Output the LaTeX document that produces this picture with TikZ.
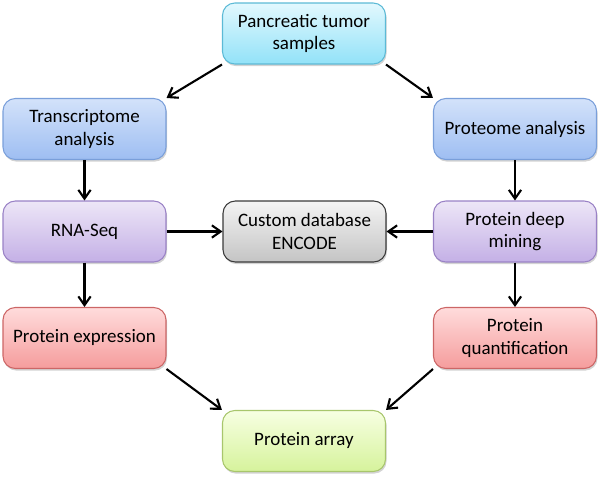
\documentclass[tikz,border=0pt]{standalone}
\usepackage{fontspec}
\setmainfont{Carlito}
\usetikzlibrary{arrows.meta,shadows}
\definecolor{cyT}{HTML}{E2F8FE}\definecolor{cyB}{HTML}{92E2F8}\definecolor{cyD}{HTML}{5CBAD6}
\definecolor{blT}{HTML}{D3E2FA}\definecolor{blB}{HTML}{9EBEF2}\definecolor{blD}{HTML}{7A9FDA}
\definecolor{puT}{HTML}{EDE6F7}\definecolor{puB}{HTML}{C4B0E6}\definecolor{puD}{HTML}{9A82C6}
\definecolor{grT}{HTML}{F4F4F4}\definecolor{grB}{HTML}{C4C4C4}\definecolor{grD}{HTML}{3A3A3A}
\definecolor{reT}{HTML}{FFDCDC}\definecolor{reB}{HTML}{F59C9C}\definecolor{reD}{HTML}{CC6666}
\definecolor{geT}{HTML}{F7FFE2}\definecolor{geB}{HTML}{D6F39C}\definecolor{geD}{HTML}{A8C66C}
\begin{document}
\begin{tikzpicture}[x=0.02cm,y=-0.02cm,
  box/.style={rounded corners=7pt, minimum width=3.26cm, minimum height=1.22cm,
    align=center, font=\fontsize{10.8}{13}\selectfont, line width=0.6pt, inner sep=2pt,
    drop shadow={shadow xshift=0.6pt, shadow yshift=-1.2pt, opacity=0.35, fill=gray}},
  cyanbox/.style={box, draw=cyD, top color=cyT, bottom color=cyB},
  bluebox/.style={box, draw=blD, top color=blT, bottom color=blB},
  purplebox/.style={box, draw=puD, top color=puT, bottom color=puB},
  graybox/.style={box, draw=grD, top color=grT, bottom color=grB},
  redbox/.style={box, draw=reD, top color=reT, bottom color=reB},
  greenbox/.style={box, draw=geD, top color=geT, bottom color=geB},
  arr/.style={-{Straight Barb[length=5pt,width=7pt]}, line width=1.2pt, black}
]
\useasboundingbox (0,0) rectangle (600,477);
\node[cyanbox]   (top)   at (304,33.5) {Pancreatic tumor\\samples};
\node[bluebox]   (trans) at (84.5,129) {Transcriptome\\analysis};
\node[bluebox]   (prot)  at (515,129) {Proteome analysis};
\node[purplebox] (rna)   at (84.5,231.5) {RNA-Seq};
\node[graybox]   (cust)  at (304.5,231.5) {Custom database\\ENCODE};
\node[purplebox] (deep)  at (515,231.5) {Protein deep\\mining};
\node[redbox]    (expr)  at (84.5,338) {Protein expression};
\node[redbox]    (quant) at (515,338) {Protein\\quantification};
\node[greenbox]  (array) at (304,441) {Protein array};

\draw[arr] (top.south west) -- (trans.north east);
\draw[arr] (top.south east) -- (prot.north west);
\draw[arr] (trans) -- (rna);
\draw[arr] (prot) -- (deep);
\draw[arr] (rna) -- (cust);
\draw[arr] (deep) -- (cust);
\draw[arr] (rna) -- (expr);
\draw[arr] (deep) -- (quant);
\draw[arr] (expr.south east) -- (array.north west);
\draw[arr] (quant.south west) -- (array.north east);
\end{tikzpicture}
\end{document}
